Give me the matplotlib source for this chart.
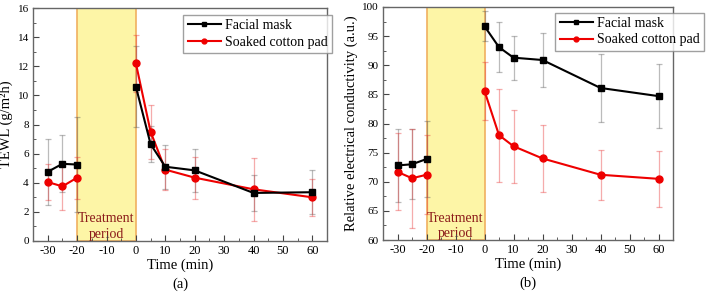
import matplotlib
matplotlib.use("Agg")
import matplotlib.pyplot as plt
import numpy as np
from matplotlib.ticker import MultipleLocator

plt.rcParams['font.family'] = ['Liberation Serif', 'DejaVu Serif']
plt.rcParams['axes.unicode_minus'] = False

time_pre = [-30, -25, -20]
time_post = [0, 5, 10, 20, 40, 60]

# Panel (a) TEWL
tewl_mask_pre = [4.75, 5.3, 5.25]
tewl_mask_post = [10.6, 6.65, 5.1, 4.85, 3.3, 3.35]
tewl_mask_err_pre = [2.25, 1.95, 3.25]
tewl_mask_err_post = [2.8, 1.25, 1.5, 1.5, 1.25, 1.5]
tewl_pad_pre = [4.05, 3.75, 4.35]
tewl_pad_post = [12.2, 7.5, 4.9, 4.35, 3.55, 3.0]
tewl_pad_err_pre = [1.25, 1.65, 1.45]
tewl_pad_err_post = [1.95, 1.85, 1.4, 1.45, 2.15, 1.25]

# Panel (b) conductivity
ec_mask_pre = [72.8, 73.0, 73.9]
ec_mask_post = [96.7, 93.1, 91.3, 90.9, 86.1, 84.7]
ec_mask_err_pre = [6.2, 6.0, 6.6]
ec_mask_err_post = [2.6, 4.3, 3.8, 4.6, 5.8, 5.5]
ec_pad_pre = [71.7, 70.6, 71.2]
ec_pad_post = [85.6, 78.0, 76.1, 74.0, 71.2, 70.5]
ec_pad_err_pre = [6.6, 8.5, 6.8]
ec_pad_err_post = [5.0, 8.0, 6.3, 5.7, 4.3, 4.8]

fig = plt.figure(figsize=(7.07, 3.01), dpi=100)
ax1 = fig.add_axes([33/707, 1-241/301, 294/707, 233/301])
ax2 = fig.add_axes([383/707, 1-240/301, 290/707, 233/301])

def draw(ax, mpre, mpost, mepre, mepost, ppre, ppost, pepre, pepost, ylim, ymaj, ymin, ylabel, tag, ytext):
    ax.axvspan(-20, 0, facecolor='#fdf5a6', edgecolor='#f0b060', linewidth=1.2, zorder=0)
    ax.text(-10, ytext, 'Treatment\nperiod', ha='center', va='bottom', color='#8b1a1a',
            fontsize=10, linespacing=1.25, zorder=1)
    for xs, ys, es in [(time_pre, mpre, mepre), (time_post, mpost, mepost)]:
        ax.errorbar(xs, ys, yerr=es, fmt='none', ecolor='#555555', alpha=0.4, elinewidth=0.9,
                    capsize=2.5, capthick=0.9, zorder=2)
    for xs, ys, es in [(time_pre, ppre, pepre), (time_post, ppost, pepost)]:
        ax.errorbar(xs, ys, yerr=es, fmt='none', ecolor='#e83030', alpha=0.4, elinewidth=0.9,
                    capsize=2.5, capthick=0.9, zorder=2)
    l1, = ax.plot(time_pre, mpre, color='black', marker='s', markersize=5, linewidth=1.5, zorder=4)
    ax.plot(time_post, mpost, color='black', marker='s', markersize=5, linewidth=1.5, zorder=4)
    l2, = ax.plot(time_pre, ppre, color='#ee0000', marker='o', markersize=5, linewidth=1.5, zorder=3)
    ax.plot(time_post, ppost, color='#ee0000', marker='o', markersize=5, linewidth=1.5, zorder=3)
    ax.set_xlim(-35, 65)
    ax.set_ylim(*ylim)
    ax.set_xticks([-30, -20, -10, 0, 10, 20, 30, 40, 50, 60])
    ax.xaxis.set_minor_locator(MultipleLocator(5))
    ax.yaxis.set_major_locator(MultipleLocator(ymaj))
    ax.yaxis.set_minor_locator(MultipleLocator(ymin))
    ax.tick_params(which='both', direction='in', labelsize=9, color='#444444', pad=3)
    ax.tick_params(which='major', length=4)
    ax.tick_params(which='minor', length=2)
    ax.tick_params(axis='y', labelsize=8)
    for s in ax.spines.values():
        s.set_color('#666666')
        s.set_linewidth(1.0)
    ax.set_xlabel('Time (min)', fontsize=10.5, labelpad=1)
    ax.set_ylabel(ylabel, fontsize=10.5, labelpad=3)
    ax.text(0.5, -0.155, tag, transform=ax.transAxes, ha='center', va='top', fontsize=10.5)
    return l1, l2

leg_kw = dict(loc='upper right', fontsize=10, frameon=True, fancybox=False,
              edgecolor='#888888', handlelength=2.4, borderpad=0.3, labelspacing=0.25,
              handletextpad=0.3, borderaxespad=0.0, markerscale=0.7)

l1, l2 = draw(ax1, tewl_mask_pre, tewl_mask_post, tewl_mask_err_pre, tewl_mask_err_post,
              tewl_pad_pre, tewl_pad_post, tewl_pad_err_pre, tewl_pad_err_post,
              (0, 16), 2, 1, 'TEWL (g/m²h)', '(a)', 0.0)
ax1.legend([l1, l2], ['Facial mask', 'Soaked cotton pad'],
           bbox_to_anchor=(1.017, 0.97), **leg_kw)

l1, l2 = draw(ax2, ec_mask_pre, ec_mask_post, ec_mask_err_pre, ec_mask_err_post,
              ec_pad_pre, ec_pad_post, ec_pad_err_pre, ec_pad_err_post,
              (60, 100), 5, 2.5, 'Relative electrical conductivity (a.u.)', '(b)', 60.0)
ax2.legend([l1, l2], ['Facial mask', 'Soaked cotton pad'],
           bbox_to_anchor=(1.107, 0.975), **leg_kw)

fig.savefig('out.png', dpi=100)
